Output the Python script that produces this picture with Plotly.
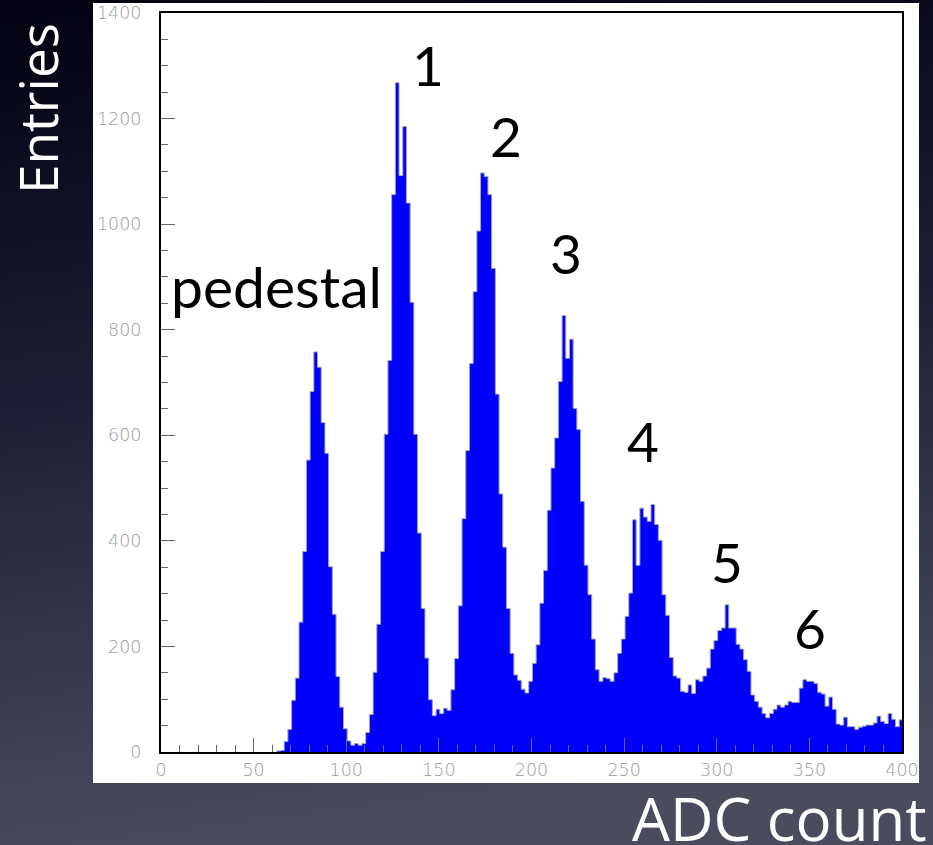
import base64
import plotly.graph_objects as go

# ADC spectrum: 2-count bins, first bin starts at 62.5
bin_width = 2
first_edge = 62.5
counts = [
    2, 3, 20, 43, 98, 140, 246, 380, 553, 683, 758, 729, 624, 566, 351, 261,
    143, 85, 44, 21, 13, 16, 13, 16, 37, 71, 151, 242, 380, 602, 742, 1056,
    1268, 1092, 1185, 1040, 852, 602, 415, 272, 178, 99, 69, 81, 73, 83, 79, 118,
    177, 277, 442, 571, 736, 872, 987, 1097, 1090, 1056, 916, 678, 489, 388, 272, 187,
    146, 136, 119, 112, 134, 168, 203, 282, 344, 458, 538, 595, 702, 827, 746, 782,
    651, 611, 475, 354, 298, 214, 156, 134, 141, 139, 134, 150, 187, 214, 257, 301,
    440, 354, 462, 445, 437, 469, 431, 401, 298, 259, 179, 144, 140, 115, 113, 127,
    111, 137, 134, 144, 159, 195, 211, 230, 235, 279, 235, 235, 204, 195, 175, 153,
    108, 96, 85, 73, 65, 73, 81, 89, 85, 89, 96, 94, 94, 121, 137, 134,
    134, 130, 113, 110, 87, 104, 81, 53, 51, 66, 48, 48, 43, 47, 49, 51,
    51, 55, 68, 58, 54, 73, 62, 48, 61,
]

# peak labels: text, x, y (data units)
peak_labels = ["pedestal", "1", "2", "3", "4", "5", "6"]
peak_label_x = [62.6, 144.1, 186.2, 218.6, 260.2, 305.5, 350.3]
peak_label_y = [882, 1302, 1167, 946, 590, 360, 235]

x_ticks = [0, 50, 100, 150, 200, 250, 300, 350, 400]
y_ticks = [0, 200, 400, 600, 800, 1000, 1200, 1400]

W, H = 933, 845
ML, MR, MT, MB = 161, 31, 13, 93
PW, PH = W - ML - MR, H - MT - MB


def px_x(px):
    return (px - ML) / PW


def px_y(py):
    return (H - MB - py) / PH


edges = [first_edge + i * bin_width for i in range(len(counts) + 1)]
step_y = counts + [counts[-1]]

fig = go.Figure()
fig.add_trace(go.Scatter(
    x=edges, y=step_y, mode="lines", line_shape="hv",
    line=dict(color="#a8a8a8", width=1),
    fill="tozeroy", fillcolor="#0000ff",
    hoverinfo="skip", showlegend=False,
))

# slide background gradient
svg = (
    f'<svg xmlns="http://www.w3.org/2000/svg" width="{W}" height="{H}">'
    '<defs><linearGradient id="g" x1="0.1" y1="0" x2="0.25" y2="1">'
    '<stop offset="0" stop-color="#020212"/>'
    '<stop offset="0.45" stop-color="#1d1e35"/>'
    '<stop offset="1" stop-color="#4a4c5e"/>'
    '</linearGradient></defs>'
    f'<rect width="{W}" height="{H}" fill="url(#g)"/></svg>'
)
bg_src = "data:image/svg+xml;base64," + base64.b64encode(svg.encode()).decode()

fig.add_layout_image(dict(
    source=bg_src, xref="paper", yref="paper",
    x=px_x(0), y=px_y(0), sizex=W / PW, sizey=H / PH,
    xanchor="left", yanchor="top", sizing="stretch", layer="below",
))

# white canvas behind the frame
fig.add_shape(type="rect", xref="paper", yref="paper",
              x0=px_x(93), x1=px_x(919), y0=px_y(783), y1=px_y(3),
              fillcolor="white", line_width=0, layer="below")

tick_font = dict(family="DejaVu Sans", size=17.5, color="#9a9a9a", weight=300)
tick_col = "#666666"

fig.update_xaxes(
    range=[0, 400], tickvals=x_ticks, ticktext=[str(v) for v in x_ticks],
    ticks="inside", ticklen=14, tickwidth=1, tickcolor=tick_col,
    minor=dict(dtick=10, ticks="inside", ticklen=7, tickcolor=tick_col, tickwidth=1),
    showline=True, linecolor="black", linewidth=2, mirror=True,
    showgrid=False, zeroline=False, tickfont=tick_font, ticklabelstandoff=1,
    automargin=False,
)
fig.update_yaxes(
    range=[0, 1400], tickvals=y_ticks, ticktext=[str(v) for v in y_ticks],
    ticks="inside", ticklen=14, tickwidth=1, tickcolor=tick_col,
    minor=dict(dtick=50, ticks="inside", ticklen=7, tickcolor=tick_col, tickwidth=1),
    showline=True, linecolor="black", linewidth=2, mirror=True,
    showgrid=False, zeroline=False, tickfont=tick_font, ticklabelstandoff=14,
    automargin=False,
)

for txt, xv, yv in zip(peak_labels, peak_label_x, peak_label_y):
    size = 57 if len(txt) > 1 else 55
    fig.add_annotation(x=xv, y=yv, xref="x", yref="y", text=txt, showarrow=False,
                       xanchor="center", yanchor="middle",
                       font=dict(family="Lato", size=size, color="black"))

fig.add_annotation(x=px_x(38), y=px_y(108), xref="paper", yref="paper",
                   text="Entries", textangle=-90, showarrow=False,
                   xanchor="center", yanchor="middle",
                   font=dict(family="Open Sans", size=53, color="white"))
fig.add_annotation(x=px_x(779), y=px_y(818), xref="paper", yref="paper",
                   text="ADC count", showarrow=False,
                   xanchor="center", yanchor="middle",
                   font=dict(family="Open Sans", size=60, color="white"))

fig.update_layout(
    width=W, height=H,
    margin=dict(l=ML, r=MR, t=MT, b=MB, pad=0),
    paper_bgcolor="#1d1e35", plot_bgcolor="white",
    showlegend=False,
)

fig.write_html("out.html")
